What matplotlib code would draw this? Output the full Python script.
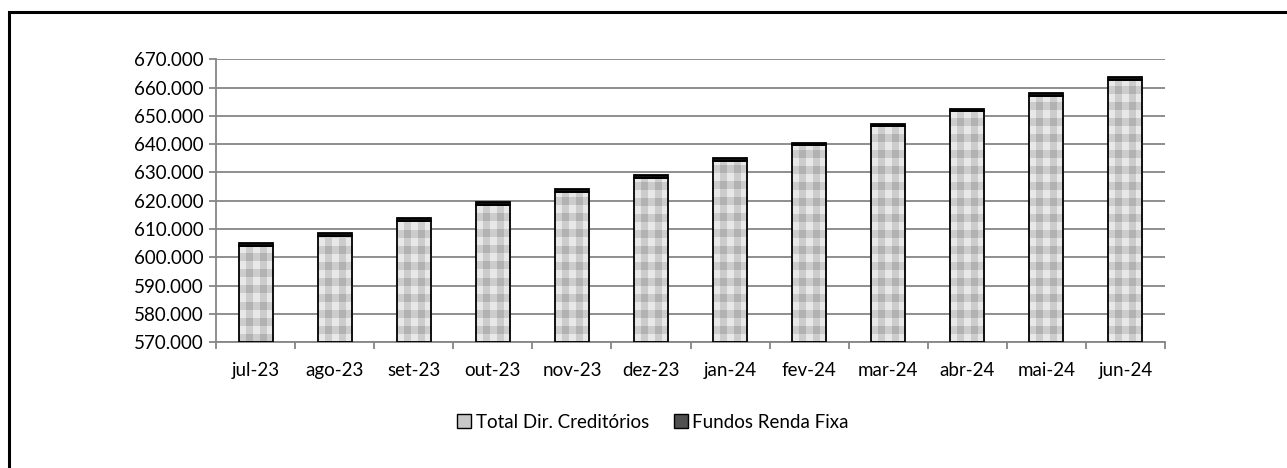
import numpy as np
import matplotlib
matplotlib.use("Agg")
import matplotlib.pyplot as plt
from matplotlib.patches import Rectangle, Patch
from matplotlib.ticker import FuncFormatter

months = ['jul-23', 'ago-23', 'set-23', 'out-23', 'nov-23', 'dez-23',
          'jan-24', 'fev-24', 'mar-24', 'abr-24', 'mai-24', 'jun-24']
total_dir_creditorios = [604000, 607500, 613000, 618400, 623100, 628200,
                         634000, 639600, 646300, 651600, 657200, 662800]
fundos_renda_fixa = [1000, 1000, 1000, 1000, 1000, 1000,
                     1000, 1000, 1000, 1000, 1000, 1000]
y_ticks = np.arange(570000, 670001, 10000)

plt.rcParams['font.family'] = ['Lato', 'DejaVu Sans']

W, H = 1287, 468
fig = plt.figure(figsize=(W / 100, H / 100), dpi=100)
ax = fig.add_axes([216 / W, 1 - 342.3 / H, (1165 - 216) / W, (342.3 - 59.3) / H])

x = np.arange(len(months))
bw = 0.43
grid_c = '#868686'
fs = 13.5


def plaid(nx, ny):
    # checkered fill, three shades of grey
    v = (np.arange(nx) % 2)[None, :] + (np.arange(ny) % 2)[:, None]
    shades = np.array([0.91, 0.80, 0.70])
    g = shades[v]
    return np.dstack([g, g, g])


ax.set_xlim(-0.5, len(months) - 0.5)
ax.set_ylim(y_ticks[0], y_ticks[-1])

bars = ax.bar(x, np.array(total_dir_creditorios) - y_ticks[0], bottom=y_ticks[0],
              width=bw, color='#cccccc', edgecolor='none', zorder=2)
fig.canvas.draw()
for b in bars:
    x0, y0 = b.get_x(), b.get_y()
    w, h = b.get_width(), b.get_height()
    p0 = ax.transData.transform((x0, y0))
    p1 = ax.transData.transform((x0 + w, y0 + h))
    nx = max(1, int(round((p1[0] - p0[0]) / 7.0)))
    ny = max(1, int(round((p1[1] - p0[1]) / 8.0)))
    im = ax.imshow(plaid(nx, ny), extent=(x0, x0 + w, y0, y0 + ny * 8.0 * h / (p1[1] - p0[1])),
                   origin='upper', interpolation='nearest', aspect='auto', zorder=2.5)
    im.set_clip_path(b)

ax.bar(x, np.array(total_dir_creditorios) - y_ticks[0], bottom=y_ticks[0],
       width=bw, fill=False, edgecolor='black', linewidth=1.3, zorder=3)
ax.bar(x, fundos_renda_fixa, bottom=total_dir_creditorios, width=bw,
       color='#111111', edgecolor='black', linewidth=1.3, zorder=3)

ax.set_xlim(-0.5, len(months) - 0.5)
ax.set_ylim(y_ticks[0], y_ticks[-1])
ax.set_yticks(y_ticks)
ax.yaxis.set_major_formatter(FuncFormatter(lambda v, p: f"{int(v):,}".replace(',', '.')))
ax.set_xticks(x)
ax.set_xticklabels(months)
ax.set_xticks(np.arange(-0.5, len(months), 1), minor=True)
ax.tick_params(axis='x', which='major', length=0, pad=14, labelsize=fs)
ax.tick_params(axis='x', which='minor', length=5, width=1.3, color=grid_c)
ax.tick_params(axis='y', length=5, width=1.3, color=grid_c, labelsize=fs, pad=4)

ax.grid(axis='y', color=grid_c, linewidth=1.3, zorder=0)
ax.set_axisbelow(True)
for s in ['top', 'right']:
    ax.spines[s].set_visible(False)
for s in ['left', 'bottom']:
    ax.spines[s].set_color(grid_c)
    ax.spines[s].set_linewidth(1.3)

handles = [Patch(facecolor='#c8c8c8', edgecolor='black', linewidth=1.0, label='Total Dir. Creditórios'),
           Patch(facecolor='#505050', edgecolor='black', linewidth=1.0, label='Fundos Renda Fixa')]
fig.legend(handles=handles, loc='center', bbox_to_anchor=(653 / W, 1 - 422 / H), ncol=2,
           frameon=False, fontsize=fs, handlelength=0.75, handleheight=0.75,
           handletextpad=0.25, columnspacing=1.3)

fig.add_artist(Rectangle((8.5 / W, -0.2), 1.2, 1.2 - 11.5 / H, transform=fig.transFigure,
                         fill=False, edgecolor='black', linewidth=2.2))

fig.savefig('out.png', dpi=100)
